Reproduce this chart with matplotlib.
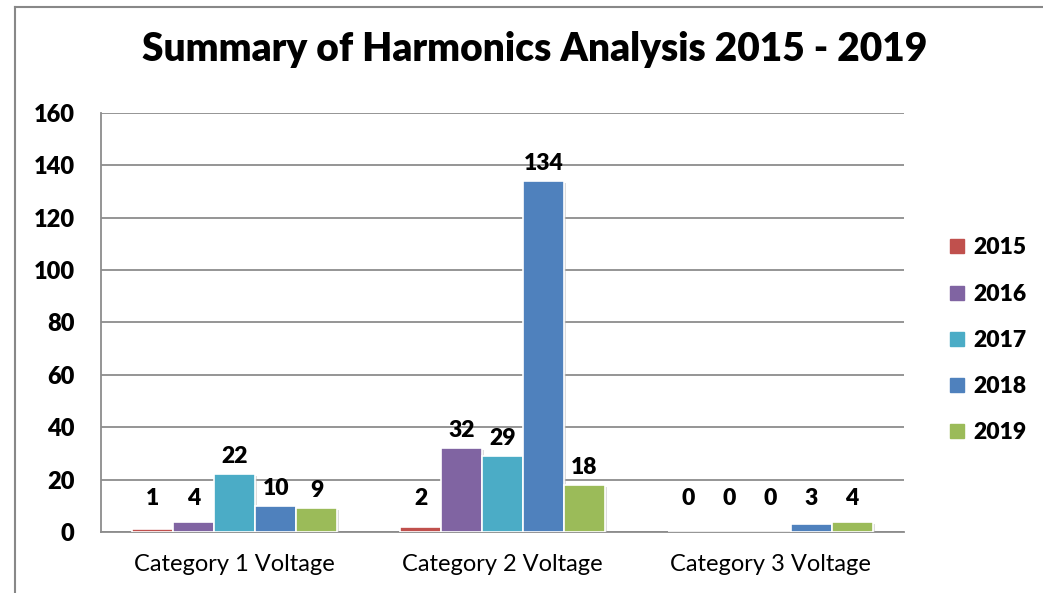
import numpy as np
import matplotlib
matplotlib.use('Agg')
import matplotlib.pyplot as plt
from matplotlib.lines import Line2D
import matplotlib.patheffects as pe

plt.rcParams['font.family'] = ['Lato', 'DejaVu Sans']

categories = ['Category 1 Voltage', 'Category 2 Voltage', 'Category 3 Voltage']
years = ['2015', '2016', '2017', '2018', '2019']
v2015 = [1, 2, 0]
v2016 = [4, 32, 0]
v2017 = [22, 29, 0]
v2018 = [10, 134, 3]
v2019 = [9, 18, 4]
colors = ['#C0504D', '#8064A2', '#4BACC6', '#4F81BD', '#9BBB59']

series = [v2015, v2016, v2017, v2018, v2019]
heavy = 'heavy'

fig = plt.figure(figsize=(10.43, 5.93), dpi=100)
ax = fig.add_axes([0.0968, 0.1029, 0.7699, 0.7066])

x = np.arange(len(categories))
width = 0.153
shadow = [pe.SimplePatchShadow(offset=(1.5, -1.5), shadow_rgbFace='#bbbbbb', alpha=0.5), pe.Normal()]
for i, (vals, c, yr) in enumerate(zip(series, colors, years)):
    pos = x + (i - 2) * width
    bars = ax.bar(pos, vals, width, color=c, edgecolor='white', linewidth=1.2, label=yr, zorder=3)
    for b in bars:
        b.set_path_effects(shadow)
    for px, v in zip(pos, vals):
        ax.annotate(str(v), (px, max(v, 6)), xytext=(0, 5), textcoords='offset points',
                    ha='center', va='bottom', fontsize=16.5, fontweight=heavy, zorder=4)

ax.set_xlim(-0.5, 2.5)
ax.set_ylim(0, 160)
ax.set_yticks(range(0, 161, 20))
ax.set_xticks(x)
ax.set_xticklabels(categories, fontsize=17)
ax.tick_params(axis='both', length=0)
ax.tick_params(axis='y', labelsize=17, pad=19)
ax.tick_params(axis='x', pad=16)
for lab in ax.get_yticklabels():
    lab.set_fontweight(heavy)
ax.grid(axis='y', color='#8c8c8c', linewidth=1.3, zorder=0)
for s in ['top', 'right']:
    ax.spines[s].set_visible(False)
ax.spines['left'].set_color('#8c8c8c')
ax.spines['bottom'].set_color('#8c8c8c')
ax.spines['left'].set_linewidth(1.3)
ax.spines['bottom'].set_linewidth(1.3)

fig.text(0.513, 0.916, 'Summary of Harmonics Analysis 2015 - 2019', ha='center', va='center',
         fontsize=28, fontweight=heavy)

handles = [Line2D([], [], marker='s', linestyle='', markersize=10, color=c) for c in colors]
leg = fig.legend(handles, years, loc='center left', bbox_to_anchor=(0.888, 0.426),
                 frameon=False, prop={'size': 16.5, 'weight': heavy},
                 labelspacing=1.1, handletextpad=0.25, handlelength=0.9)

# chart border (left and top edges visible)
fig.add_artist(Line2D([0.0144, 0.0144], [0, 0.988], color='#888888', linewidth=1.5))
fig.add_artist(Line2D([0.0144, 1], [0.988, 0.988], color='#888888', linewidth=1.5))

fig.savefig('out.png', dpi=100)
